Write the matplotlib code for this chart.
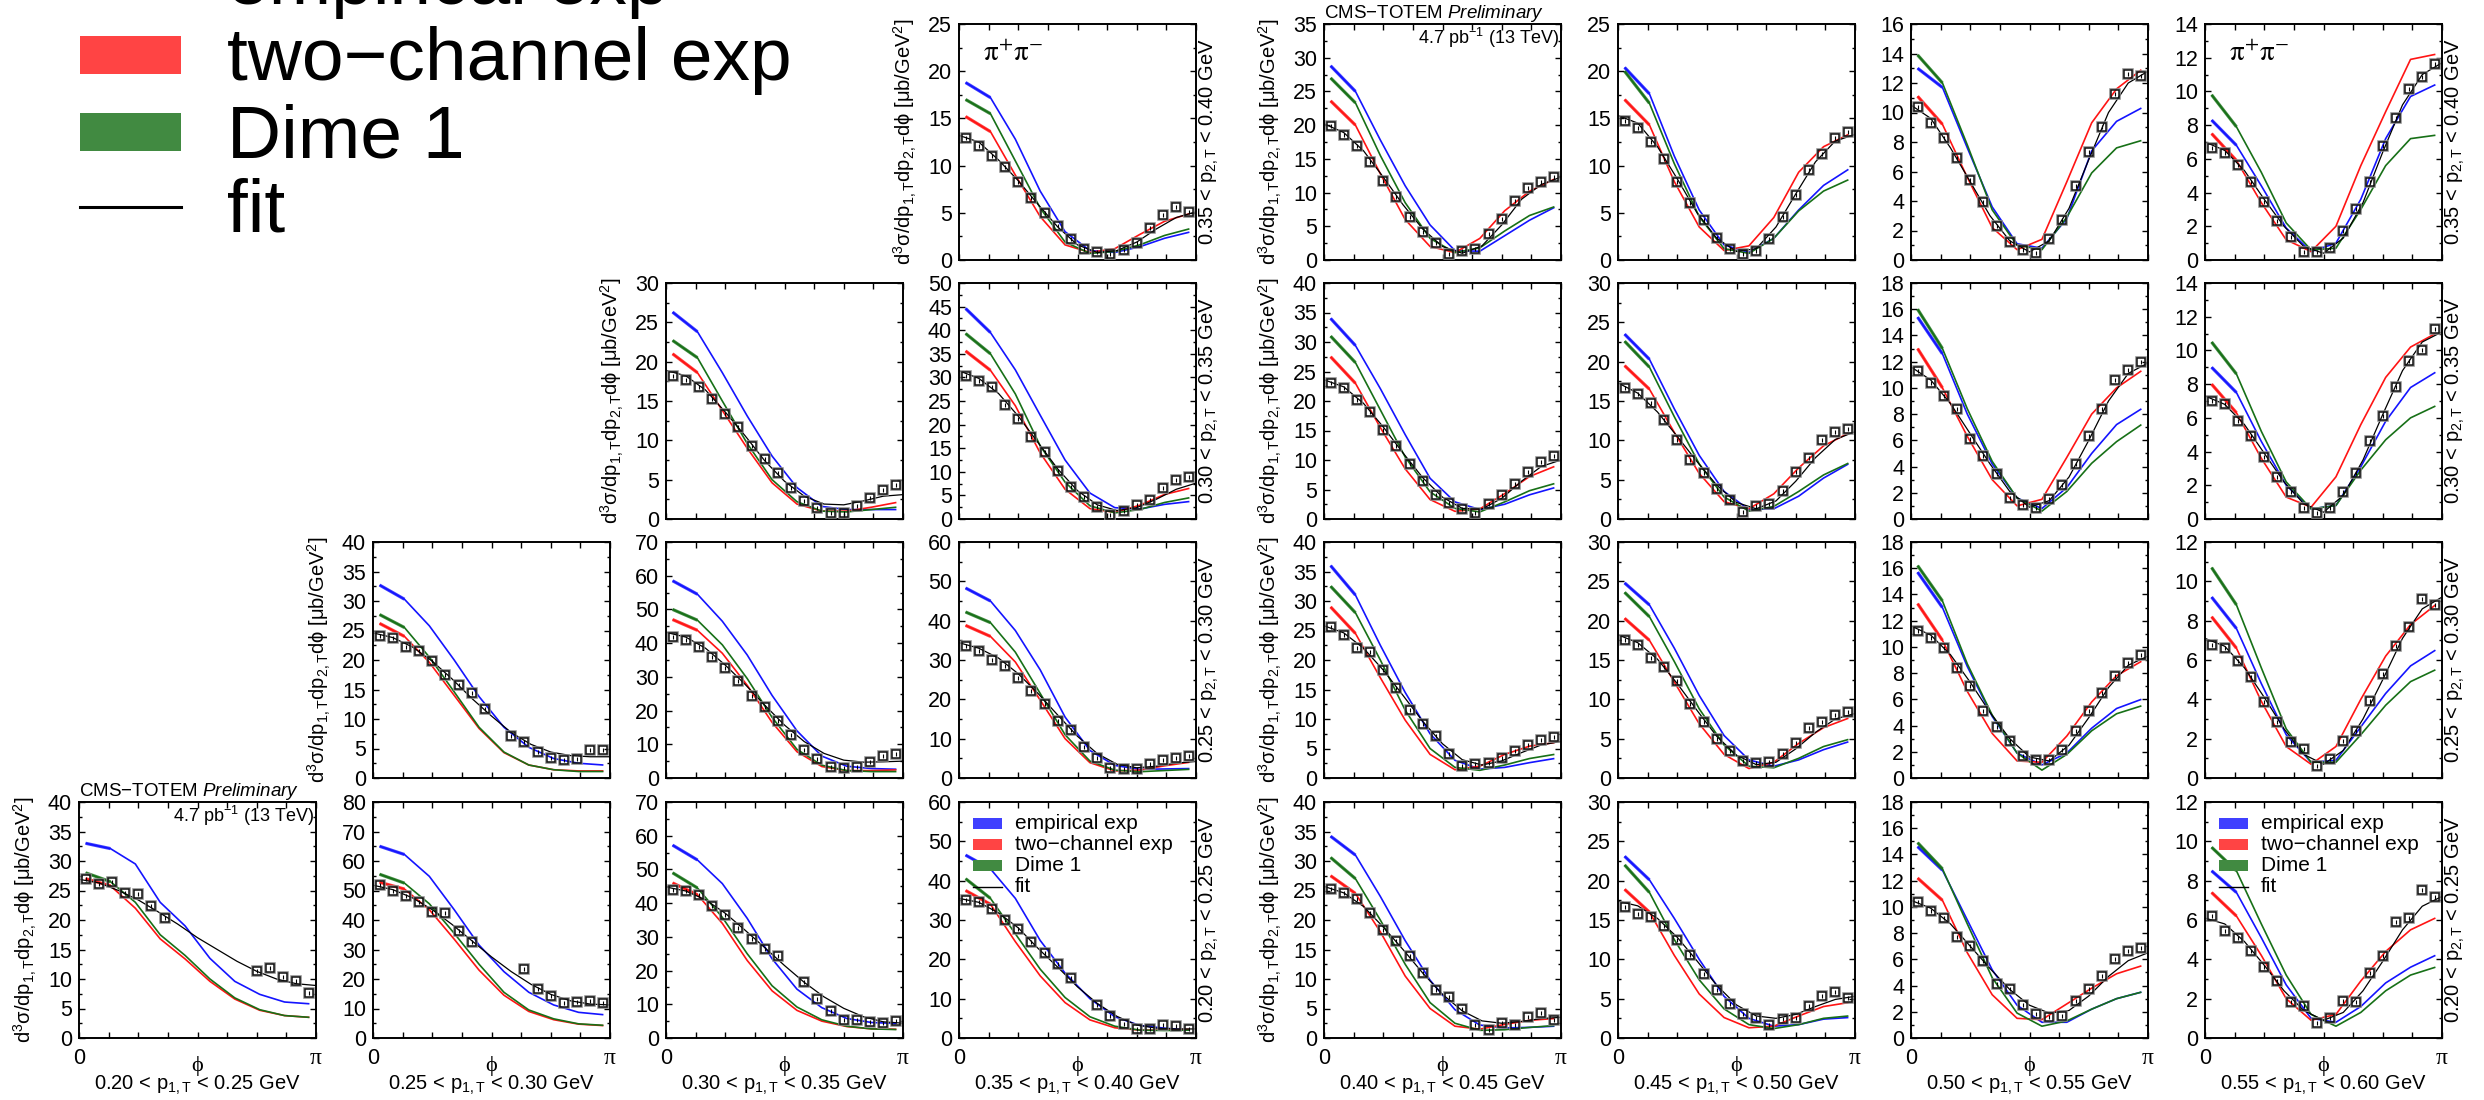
import numpy as np
import matplotlib
matplotlib.use("Agg")
import matplotlib.pyplot as plt
from matplotlib.patches import Rectangle
from matplotlib.lines import Line2D

plt.rcParams['font.family'] = ['Liberation Sans', 'DejaVu Sans']
plt.rcParams['mathtext.fontset'] = 'custom'
plt.rcParams['mathtext.rm'] = 'Liberation Sans'
plt.rcParams['mathtext.it'] = 'Liberation Sans:italic'
plt.rcParams['mathtext.bf'] = 'Liberation Sans:bold'

# ---------------------------------------------------------------- binning
P1_EDGES = [("0.20", "0.25"), ("0.25", "0.30"), ("0.30", "0.35"), ("0.35", "0.40"),
            ("0.40", "0.45"), ("0.45", "0.50"), ("0.50", "0.55"), ("0.55", "0.60")]
P2_EDGES = [("0.35", "0.40"), ("0.30", "0.35"), ("0.25", "0.30"), ("0.20", "0.25")]

N_PHI_BINS = 18      # measured phi bins
N_MODEL = 10         # model prediction nodes
N_FIT = 13           # fit curve nodes

# upper end of the y axis for every (p1, p2) panel
YMAX = {
    ("0.35", "0.35"): 25, ("0.40", "0.35"): 35, ("0.45", "0.35"): 25, ("0.50", "0.35"): 16, ("0.55", "0.35"): 14,
    ("0.30", "0.30"): 30, ("0.35", "0.30"): 50, ("0.40", "0.30"): 40, ("0.45", "0.30"): 30, ("0.50", "0.30"): 18, ("0.55", "0.30"): 14,
    ("0.25", "0.25"): 40, ("0.30", "0.25"): 70, ("0.35", "0.25"): 60, ("0.40", "0.25"): 40, ("0.45", "0.25"): 30, ("0.50", "0.25"): 18, ("0.55", "0.25"): 12,
    ("0.20", "0.20"): 40, ("0.25", "0.20"): 80, ("0.30", "0.20"): 70, ("0.35", "0.20"): 60, ("0.40", "0.20"): 40, ("0.45", "0.20"): 30, ("0.50", "0.20"): 18, ("0.55", "0.20"): 12,
}

# measured cross section per phi bin (None = empty bin)
DATA = {
    ("0.35", "0.35"): [12.9, 12.1, 11.0, 9.9, 8.3, 6.6, 5.0, 3.6, 2.2, 1.2, 0.9, 0.6, 1.05, 1.75, 3.35, 4.75, 5.65, 5.1],
    ("0.40", "0.35"): [19.8, 18.6, 16.9, 14.6, 11.7, 9.3, 6.4, 4.1, 2.5, 0.85, 1.3, 1.7, 3.8, 6.1, 8.7, 10.7, 11.6, 12.3],
    ("0.45", "0.35"): [14.7, 14.0, 12.5, 10.7, 8.3, 6.0, 4.2, 2.3, 1.2, 0.6, 0.95, 2.2, 4.6, 6.9, 9.5, 11.25, 12.9, 13.6],
    ("0.50", "0.35"): [10.4, 9.3, 8.3, 6.9, 5.45, 3.95, 2.3, 1.2, 0.7, 0.5, 1.4, 2.7, 5.0, 7.3, 9.0, 11.25, 12.6, 12.5],
    ("0.55", "0.35"): [6.65, 6.35, 5.65, 4.65, 3.45, 2.3, 1.35, 0.5, 0.5, 0.7, 1.75, 3.0, 4.6, 6.75, 8.4, 10.15, 10.85, 11.6],
    ("0.30", "0.30"): [18.2, 17.7, 16.8, 15.3, 13.3, 11.75, 9.3, 7.65, 5.9, 4.0, 2.3, 1.35, 0.7, 0.7, 1.6, 2.65, 3.7, 4.3],
    ("0.35", "0.30"): [30.3, 29.2, 28.0, 24.2, 21.1, 17.4, 14.3, 10.1, 6.8, 4.7, 2.5, 0.9, 1.6, 2.9, 4.0, 6.5, 8.2, 9.0],
    ("0.40", "0.30"): [23.1, 22.2, 20.1, 18.1, 15.1, 12.3, 9.3, 6.5, 4.1, 2.7, 1.7, 1.1, 2.5, 4.1, 5.9, 8.0, 9.6, 10.6],
    ("0.45", "0.30"): [16.7, 15.9, 14.8, 12.6, 10.1, 7.5, 5.8, 3.8, 2.4, 0.9, 1.7, 1.9, 3.6, 6.0, 7.7, 10.0, 11.1, 11.4],
    ("0.50", "0.30"): [11.3, 10.4, 9.4, 8.4, 6.1, 4.8, 3.4, 1.6, 1.1, 0.85, 1.5, 2.6, 4.2, 6.3, 8.4, 10.6, 11.35, 12.0],
    ("0.55", "0.30"): [7.0, 6.8, 5.8, 4.9, 3.65, 2.5, 1.6, 0.65, 0.35, 0.65, 1.6, 2.75, 4.65, 6.1, 7.85, 9.4, 10.05, 11.3],
    ("0.25", "0.25"): [24.1, 23.7, 22.2, 21.5, 19.9, 17.5, 15.75, 14.4, 11.7, None, 7.1, 6.1, 4.4, 3.4, 3.1, 3.3, 4.8, 4.7],
    ("0.30", "0.25"): [41.8, 40.8, 38.9, 35.9, 32.6, 28.8, 24.4, 21.0, 17.0, 12.9, 8.4, 5.7, 3.4, 3.0, 3.2, 4.7, 6.5, 7.2],
    ("0.35", "0.25"): [33.6, 32.3, 30.0, 28.5, 25.3, 22.2, 18.8, 14.6, 12.1, 8.0, 5.1, 2.5, 2.4, 2.2, 3.6, 4.7, 5.1, 5.6],
    ("0.40", "0.25"): [25.6, 24.3, 22.1, 21.4, 18.3, 15.3, 11.6, 9.2, 7.2, 4.0, 2.0, 2.4, 2.6, 3.4, 4.5, 5.6, 6.4, 6.9],
    ("0.45", "0.25"): [17.6, 16.9, 15.3, 14.1, 12.3, 9.4, 7.1, 5.0, 3.4, 2.1, 1.9, 2.0, 3.1, 4.5, 6.4, 7.1, 8.0, 8.4],
    ("0.50", "0.25"): [11.2, 10.7, 9.95, 8.4, 7.05, 5.1, 3.9, 2.85, 1.65, 1.4, 1.35, 2.15, 3.55, 5.1, 6.5, 7.75, 8.8, 9.4],
    ("0.55", "0.25"): [6.75, 6.6, 5.95, 5.15, 3.85, 2.85, 1.85, 1.5, 0.6, 0.95, 1.9, 2.4, 3.9, 5.3, 6.7, 7.7, 9.1, 8.8],
    ("0.20", "0.20"): [26.9, 26.1, 26.4, 24.6, 24.4, 22.3, 20.4, None, None, None, None, None, None, 11.4, 11.8, 10.4, 9.6, 7.6],
    ("0.25", "0.20"): [51.7, 49.8, 48.3, 46.0, 42.6, 42.4, 36.2, 32.5, None, None, None, 23.4, 16.6, 14.4, 11.9, 12.1, 12.7, 11.9],
    ("0.30", "0.20"): [44.0, 43.5, 42.3, 39.1, 36.4, 32.7, 29.5, 26.5, 24.3, None, 16.6, 11.7, 8.0, 5.4, 5.4, 4.7, 4.5, 5.0],
    ("0.35", "0.20"): [35.0, 34.6, 32.9, 30.1, 27.8, 24.4, 21.6, 18.7, 15.2, None, 8.4, 5.7, 3.6, 2.3, 2.3, 3.3, 3.0, 2.3],
    ("0.40", "0.20"): [25.2, 24.6, 23.6, 21.2, 18.3, 16.5, 13.9, 11.0, 8.2, 7.0, 5.0, 2.2, 1.35, 2.55, 2.2, 3.6, 4.2, 3.1],
    ("0.45", "0.20"): [16.6, 15.7, 15.4, 14.3, 12.5, 10.6, 8.15, 6.1, 4.3, 3.0, 2.5, 1.6, 2.4, 2.6, 4.1, 5.3, 5.8, 5.05],
    ("0.50", "0.20"): [10.35, 9.65, 9.15, 7.7, 7.0, 5.9, 4.1, 3.7, 2.5, 1.85, 1.6, 1.65, 2.85, 3.7, 4.7, 6.0, 6.6, 6.85],
    ("0.55", "0.20"): [6.2, 5.45, 5.1, 4.4, 3.6, 2.9, 1.85, 1.65, 0.75, 1.0, 1.9, 1.85, 3.3, 4.15, 5.9, 6.1, 7.55, 7.15],
}

# "empirical exp" model
EMPIRICAL = {
    ("0.35", "0.35"): [18.8, 17.2, 12.8, 7.3, 3.0, 1.0, 0.8, 1.4, 2.3, 2.95],
    ("0.40", "0.35"): [28.8, 25.0, 17.8, 11.0, 5.2, 1.4, 1.3, 3.6, 5.9, 7.8],
    ("0.45", "0.35"): [20.4, 17.6, 11.0, 5.3, 1.6, 0.8, 2.3, 5.3, 7.9, 9.6],
    ("0.50", "0.35"): [13.0, 11.7, 7.6, 3.6, 1.1, 0.8, 2.8, 7.4, 9.4, 10.3],
    ("0.55", "0.35"): [8.3, 6.8, 4.4, 1.9, 0.5, 1.0, 3.6, 7.2, 9.7, 10.4],
    ("0.30", "0.30"): [26.3, 23.8, 18.6, 13.1, 8.0, 4.0, 1.6, 1.2, 1.2, 1.2],
    ("0.35", "0.30"): [44.6, 39.5, 31.6, 22.0, 12.5, 5.5, 2.4, 2.1, 3.1, 3.7],
    ("0.40", "0.30"): [34.0, 29.4, 22.1, 14.3, 6.9, 2.9, 1.6, 2.5, 4.1, 5.3],
    ("0.45", "0.30"): [23.5, 20.3, 14.0, 8.1, 3.5, 1.2, 1.3, 2.9, 5.2, 7.0],
    ("0.50", "0.30"): [15.4, 12.6, 8.0, 4.2, 1.6, 0.8, 2.4, 5.0, 7.2, 8.4],
    ("0.55", "0.30"): [9.0, 7.5, 4.6, 2.0, 0.6, 0.8, 3.1, 5.8, 7.8, 8.7],
    ("0.25", "0.25"): [32.7, 30.3, 25.8, 20.0, 13.8, 8.6, 5.2, 3.3, 2.5, 2.2],
    ("0.30", "0.25"): [58.5, 54.5, 46.5, 36.5, 24.5, 14.0, 6.5, 3.5, 2.8, 2.6],
    ("0.35", "0.25"): [48.3, 45.0, 37.5, 27.5, 15.5, 7.0, 3.2, 2.2, 2.3, 2.4],
    ("0.40", "0.25"): [36.0, 31.0, 22.5, 14.5, 7.5, 3.0, 1.5, 1.8, 2.6, 3.3],
    ("0.45", "0.25"): [24.8, 22.0, 16.5, 10.5, 5.4, 2.3, 1.5, 2.3, 3.6, 4.6],
    ("0.50", "0.25"): [15.7, 13.0, 8.5, 4.7, 1.9, 1.0, 1.9, 3.8, 5.3, 6.0],
    ("0.55", "0.25"): [9.2, 7.6, 4.8, 2.2, 0.8, 0.9, 2.6, 4.3, 5.7, 6.5],
    ("0.20", "0.20"): [33.0, 32.1, 29.5, 23.0, 19.0, 13.5, 9.6, 7.4, 6.1, 5.8],
    ("0.25", "0.20"): [65.0, 62.2, 54.8, 43.5, 31.5, 22.5, 15.5, 11.2, 8.7, 7.9],
    ("0.30", "0.20"): [57.2, 52.8, 45.8, 35.5, 23.5, 14.5, 9.0, 5.8, 4.6, 4.3],
    ("0.35", "0.20"): [46.5, 43.0, 35.5, 24.8, 16.5, 10.0, 5.4, 3.2, 2.5, 2.0],
    ("0.40", "0.20"): [34.2, 31.0, 24.0, 16.5, 9.8, 4.8, 2.2, 1.7, 1.8, 2.0],
    ("0.45", "0.20"): [23.1, 20.1, 15.2, 10.0, 5.3, 2.5, 1.5, 1.7, 2.4, 2.6],
    ("0.50", "0.20"): [14.6, 12.8, 9.0, 5.2, 2.5, 1.2, 1.2, 2.2, 3.0, 3.5],
    ("0.55", "0.20"): [8.5, 7.4, 5.1, 2.7, 1.0, 0.8, 1.6, 2.8, 3.6, 4.2],
}

# "two-channel exp" model
TWO_CHANNEL = {
    ("0.35", "0.35"): [15.2, 13.6, 9.0, 4.6, 1.6, 0.8, 1.2, 2.7, 4.1, 4.9],
    ("0.40", "0.35"): [23.6, 20.0, 12.8, 6.0, 2.0, 1.1, 3.2, 7.3, 10.2, 12.0],
    ("0.45", "0.35"): [17.0, 14.3, 8.3, 3.5, 1.0, 1.5, 4.5, 9.3, 12.0, 13.3],
    ("0.50", "0.35"): [11.1, 9.2, 5.6, 2.2, 0.7, 1.4, 5.3, 9.3, 11.6, 12.9],
    ("0.55", "0.35"): [7.5, 5.9, 3.4, 1.2, 0.5, 2.0, 5.6, 8.8, 11.9, 12.2],
    ("0.30", "0.30"): [21.0, 18.6, 13.8, 9.0, 4.6, 1.9, 1.0, 1.0, 1.5, 2.1],
    ("0.35", "0.30"): [35.6, 31.5, 24.0, 14.0, 6.3, 2.2, 1.4, 2.9, 5.2, 6.5],
    ("0.40", "0.30"): [27.5, 23.0, 15.5, 8.5, 3.3, 1.3, 1.7, 4.3, 7.2, 8.9],
    ("0.45", "0.30"): [19.5, 16.5, 11.0, 5.8, 2.2, 1.3, 3.2, 6.5, 9.3, 10.9],
    ("0.50", "0.30"): [13.0, 10.0, 6.3, 3.0, 1.0, 1.5, 4.7, 8.0, 10.0, 11.3],
    ("0.55", "0.30"): [8.0, 6.3, 3.6, 1.3, 0.7, 2.5, 5.6, 8.4, 10.2, 11.0],
    ("0.25", "0.25"): [26.2, 24.0, 19.6, 14.0, 8.4, 4.3, 2.2, 1.4, 1.2, 1.2],
    ("0.30", "0.25"): [47.0, 43.8, 37.0, 27.5, 16.5, 7.8, 3.4, 2.2, 2.2, 2.4],
    ("0.35", "0.25"): [38.8, 36.0, 29.5, 19.8, 10.0, 3.9, 1.8, 2.0, 3.1, 4.0],
    ("0.40", "0.25"): [29.0, 24.5, 17.0, 9.8, 4.0, 1.4, 2.0, 4.0, 5.4, 6.0],
    ("0.45", "0.25"): [20.3, 17.5, 12.2, 6.9, 3.0, 1.2, 2.0, 4.4, 6.4, 7.6],
    ("0.50", "0.25"): [13.3, 10.5, 6.6, 3.4, 1.3, 1.2, 3.2, 5.8, 7.8, 8.9],
    ("0.55", "0.25"): [8.2, 6.6, 3.9, 1.6, 0.7, 1.6, 4.0, 6.2, 7.8, 8.8],
    ("0.20", "0.20"): [27.0, 25.8, 22.0, 16.8, 13.4, 9.6, 6.6, 4.7, 3.8, 3.5],
    ("0.25", "0.20"): [52.8, 50.5, 43.5, 33.5, 23.0, 14.5, 9.0, 6.2, 4.7, 4.2],
    ("0.30", "0.20"): [46.0, 42.5, 34.0, 23.0, 14.0, 8.2, 5.0, 3.4, 2.7, 2.6],
    ("0.35", "0.20"): [37.5, 34.0, 24.5, 15.8, 9.0, 4.6, 2.6, 2.0, 2.0, 2.2],
    ("0.40", "0.20"): [27.5, 24.5, 18.0, 10.5, 5.0, 2.0, 1.5, 2.3, 3.0, 3.3],
    ("0.45", "0.20"): [18.9, 16.0, 10.5, 5.6, 2.6, 1.3, 1.5, 2.8, 4.0, 4.5],
    ("0.50", "0.20"): [12.2, 10.5, 6.5, 3.3, 1.5, 1.4, 2.6, 3.8, 4.9, 5.5],
    ("0.55", "0.20"): [7.4, 6.2, 4.2, 2.0, 0.9, 1.2, 2.9, 4.4, 5.5, 6.1],
}

# "Dime 1" model
DIME = {
    ("0.35", "0.35"): [17.0, 15.5, 10.5, 5.5, 1.9, 0.7, 0.9, 1.6, 2.6, 3.3],
    ("0.40", "0.35"): [27.0, 23.3, 15.5, 8.5, 3.2, 1.1, 1.8, 4.3, 6.6, 7.9],
    ("0.45", "0.35"): [20.0, 16.6, 10.2, 4.6, 1.2, 0.7, 2.3, 5.2, 7.3, 8.5],
    ("0.50", "0.35"): [13.9, 12.0, 7.8, 3.4, 1.0, 0.7, 2.9, 5.9, 7.6, 8.1],
    ("0.55", "0.35"): [9.8, 7.9, 5.2, 2.2, 0.6, 0.7, 3.0, 5.6, 7.2, 7.4],
    ("0.30", "0.30"): [22.7, 20.5, 15.0, 9.6, 5.0, 2.2, 1.0, 0.9, 1.2, 1.5],
    ("0.35", "0.30"): [39.3, 35.0, 26.5, 15.5, 7.8, 2.8, 1.3, 2.0, 3.5, 4.5],
    ("0.40", "0.30"): [31.0, 26.5, 18.5, 10.5, 4.6, 1.8, 1.2, 2.9, 4.8, 6.0],
    ("0.45", "0.30"): [22.6, 19.3, 13.0, 7.0, 2.8, 1.0, 1.6, 3.5, 5.6, 7.1],
    ("0.50", "0.30"): [16.0, 13.0, 8.4, 4.4, 1.6, 0.6, 2.1, 4.25, 5.9, 7.2],
    ("0.55", "0.30"): [10.5, 8.6, 5.2, 2.2, 0.6, 0.8, 2.9, 4.7, 6.0, 6.7],
    ("0.25", "0.25"): [27.7, 25.5, 20.5, 14.6, 8.6, 4.4, 2.2, 1.4, 1.1, 1.1],
    ("0.30", "0.25"): [50.0, 46.8, 39.5, 29.5, 18.0, 8.5, 3.8, 2.2, 1.9, 1.9],
    ("0.35", "0.25"): [42.2, 39.5, 32.0, 21.5, 11.0, 4.3, 2.0, 1.6, 1.9, 2.2],
    ("0.40", "0.25"): [32.5, 28.0, 20.0, 11.5, 5.0, 1.8, 1.3, 2.2, 3.3, 4.0],
    ("0.45", "0.25"): [23.6, 20.5, 14.8, 8.8, 4.2, 1.5, 1.3, 2.5, 4.0, 4.9],
    ("0.50", "0.25"): [16.2, 13.5, 8.7, 4.8, 1.9, 0.6, 1.8, 3.6, 4.9, 5.5],
    ("0.55", "0.25"): [10.7, 8.8, 5.6, 2.5, 0.8, 0.8, 2.2, 3.7, 4.9, 5.5],
    ("0.20", "0.20"): [28.0, 26.5, 23.0, 17.5, 14.0, 10.0, 6.8, 4.8, 3.8, 3.5],
    ("0.25", "0.20"): [55.5, 52.5, 45.5, 35.5, 25.0, 15.5, 9.5, 6.5, 4.8, 4.3],
    ("0.30", "0.20"): [49.0, 44.5, 35.8, 25.0, 15.5, 9.2, 5.4, 3.5, 2.7, 2.5],
    ("0.35", "0.20"): [40.5, 35.5, 26.5, 17.5, 10.3, 5.4, 3.0, 2.0, 1.9, 2.0],
    ("0.40", "0.20"): [30.6, 27.0, 20.0, 12.5, 6.0, 2.5, 1.3, 1.4, 1.8, 2.1],
    ("0.45", "0.20"): [22.0, 18.5, 12.5, 7.4, 3.7, 1.7, 1.2, 1.7, 2.5, 2.8],
    ("0.50", "0.20"): [14.9, 12.9, 8.7, 4.6, 1.9, 0.9, 1.3, 2.2, 3.0, 3.5],
    ("0.55", "0.20"): [9.7, 8.5, 5.8, 3.2, 1.2, 0.6, 1.3, 2.4, 3.2, 3.6],
}

# fit to the measured distribution, sampled on [0, pi]
FIT = {
    ("0.35", "0.35"): [13.2, 12.5, 10.6, 8.4, 5.9, 3.5, 1.6, 0.8, 1.0, 1.9, 3.3, 4.5, 5.1],
    ("0.40", "0.35"): [20.2, 18.9, 16.2, 12.3, 8.2, 4.6, 2.0, 1.0, 2.1, 5.2, 9.0, 11.2, 12.3],
    ("0.45", "0.35"): [15.3, 14.5, 12.0, 8.6, 5.0, 2.3, 0.9, 1.2, 3.5, 7.0, 10.4, 12.6, 13.3],
    ("0.50", "0.35"): [10.5, 9.6, 7.6, 5.3, 3.0, 1.3, 0.55, 1.3, 3.5, 6.8, 10.0, 12.0, 12.8],
    ("0.55", "0.35"): [7.0, 6.5, 5.3, 3.6, 2.0, 0.8, 0.4, 1.3, 3.4, 6.4, 9.2, 11.0, 11.7],
    ("0.30", "0.30"): [18.9, 18.2, 16.4, 13.6, 10.6, 7.4, 4.8, 2.9, 1.9, 1.8, 2.3, 2.9, 3.1],
    ("0.35", "0.30"): [31.4, 29.8, 26.6, 21.8, 16.2, 10.6, 6.0, 3.0, 1.8, 2.4, 4.2, 6.3, 7.6],
    ("0.40", "0.30"): [23.6, 22.4, 19.6, 15.6, 11.2, 7.0, 3.7, 1.8, 1.7, 3.5, 6.4, 8.9, 10.0],
    ("0.45", "0.30"): [17.3, 16.0, 13.6, 10.5, 7.3, 4.3, 2.1, 1.3, 2.3, 4.8, 7.8, 10.1, 11.1],
    ("0.50", "0.30"): [11.6, 10.6, 8.8, 6.5, 4.2, 2.1, 0.9, 1.4, 3.2, 6.0, 9.0, 11.1, 11.9],
    ("0.55", "0.30"): [7.3, 6.8, 5.6, 3.9, 2.2, 0.9, 0.4, 1.4, 3.5, 6.2, 8.8, 10.5, 11.1],
    ("0.25", "0.25"): [24.6, 23.8, 22.2, 19.8, 16.8, 13.5, 10.5, 7.7, 5.7, 4.4, 3.8, 3.6, 3.6],
    ("0.30", "0.25"): [43.2, 41.8, 38.5, 33.5, 27.8, 21.6, 15.7, 10.8, 7.3, 5.3, 4.7, 4.8, 5.0],
    ("0.35", "0.25"): [34.4, 33.0, 30.5, 26.5, 21.5, 16.0, 10.6, 6.2, 3.5, 2.6, 3.0, 3.8, 4.2],
    ("0.40", "0.25"): [25.8, 24.6, 22.0, 18.3, 14.0, 9.6, 5.8, 3.1, 2.2, 2.9, 4.3, 5.6, 6.2],
    ("0.45", "0.25"): [18.2, 17.2, 15.1, 12.0, 8.6, 5.3, 2.9, 1.7, 2.0, 3.7, 5.8, 7.5, 8.2],
    ("0.50", "0.25"): [11.6, 10.9, 9.4, 7.3, 5.0, 3.0, 1.6, 1.3, 2.5, 4.6, 6.9, 8.6, 9.3],
    ("0.55", "0.25"): [7.1, 6.7, 5.6, 4.1, 2.5, 1.2, 0.7, 1.4, 3.0, 5.0, 7.1, 8.6, 9.2],
    ("0.20", "0.20"): [26.9, 26.3, 25.0, 23.4, 21.4, 19.3, 17.0, 15.0, 13.0, 11.3, 10.0, 9.2, 8.9],
    ("0.25", "0.20"): [51.8, 50.3, 47.5, 43.5, 38.5, 33.0, 27.5, 22.5, 18.2, 14.8, 12.6, 11.5, 11.2],
    ("0.30", "0.20"): [44.8, 43.6, 41.0, 37.0, 32.0, 26.8, 21.5, 16.5, 12.2, 8.8, 6.3, 4.8, 4.4],
    ("0.35", "0.20"): [35.5, 34.5, 31.8, 28.0, 22.8, 18.0, 13.0, 8.8, 5.5, 3.3, 2.5, 2.3, 2.3],
    ("0.40", "0.20"): [25.7, 24.6, 22.3, 18.8, 15.0, 11.0, 7.4, 4.6, 2.9, 2.5, 2.8, 3.3, 3.5],
    ("0.45", "0.20"): [17.4, 16.8, 15.2, 12.8, 9.8, 6.7, 4.2, 2.8, 2.5, 3.0, 4.0, 4.9, 5.3],
    ("0.50", "0.20"): [10.5, 9.9, 8.7, 7.0, 5.3, 3.7, 2.5, 1.9, 2.1, 3.2, 4.7, 5.9, 6.5],
    ("0.55", "0.20"): [6.1, 5.8, 4.9, 3.7, 2.4, 1.4, 0.9, 1.3, 2.4, 3.9, 5.5, 6.7, 7.2],
}

SERIES_NAMES = ["empirical exp", "two\u2212channel exp", "Dime 1", "fit"]
LINE_COLORS = ["#1414ff", "#ff1414", "#177017", "black"]
PATCH_COLORS = ["#4040ff", "#ff4444", "#418a41"]

# ---------------------------------------------------------------- layout (pixels)
FIG_W, FIG_H = 2484, 1100
COL_X = [79, 373, 666, 959, 1324, 1618, 1911, 2205]
ROW_Y = [24, 283, 542, 802]
PANEL_W, PANEL_H = 237, 236

YLABEL = r"d$^{3}$σ/dp$_{\mathrm{1,T}}$dp$_{\mathrm{2,T}}$d$\mathrm{\phi}$ [μb/GeV$^{2}$]"
SERIF = ["Liberation Serif", "DejaVu Serif"]

phi_data = (np.arange(N_PHI_BINS) + 0.5) * np.pi / N_PHI_BINS
phi_model = np.linspace(np.pi / 36, 35 * np.pi / 36, N_MODEL)
phi_fit = np.linspace(0.0, np.pi, N_FIT)

fig = plt.figure(figsize=(FIG_W / 100, FIG_H / 100), dpi=100)
fig.patch.set_facecolor("white")


def px_axes(col, row):
    left = COL_X[col] / FIG_W
    bottom = 1 - (ROW_Y[row] + PANEL_H) / FIG_H
    return fig.add_axes([left, bottom, PANEL_W / FIG_W, PANEL_H / FIG_H])


def small_legend(ax):
    tops = [21.5, 42.5, 63.5, 85.0]
    x0, x1 = 14 / PANEL_W, 43 / PANEL_W
    hh = 11 / PANEL_H
    for k, name in enumerate(SERIES_NAMES):
        yc = 1 - tops[k] / PANEL_H
        if k < 3:
            ax.add_patch(Rectangle((x0, yc - hh / 2), x1 - x0, hh, transform=ax.transAxes,
                                   facecolor=PATCH_COLORS[k], edgecolor="none", zorder=6))
        else:
            ax.add_line(Line2D([x0, x1], [yc, yc], transform=ax.transAxes, color="black", lw=1.0, zorder=6))
        ax.text(56 / PANEL_W, yc, name, transform=ax.transAxes, ha="left", va="center",
                fontsize=15, zorder=6)


def model_curve(ax, values, color):
    # prediction line; its uncertainty band is visible only at small phi
    ax.plot(phi_model, values, color=color, lw=1.2, zorder=2, solid_capstyle="butt")
    ax.plot(phi_model[:2], values[:2], color=color, lw=2.3, zorder=2, alpha=0.8,
            solid_capstyle="butt")


first_left_col = {0: 3, 1: 2, 2: 1, 3: 0}

for r, (lo2, hi2) in enumerate(P2_EDGES):
    for c, (lo1, hi1) in enumerate(P1_EDGES):
        key = (lo1, lo2)
        if key not in YMAX:
            continue
        ax = px_axes(c, r)
        ymax = YMAX[key]
        step = 2 if ymax <= 18 else (5 if ymax <= 50 else 10)

        model_curve(ax, EMPIRICAL[key], LINE_COLORS[0])
        model_curve(ax, TWO_CHANNEL[key], LINE_COLORS[1])
        model_curve(ax, DIME[key], LINE_COLORS[2])
        ax.plot(phi_fit, FIT[key], color="black", lw=0.9, zorder=3)
        yd = np.array(DATA[key], dtype=float)
        ax.plot(phi_data, yd, ls="none", marker="s", ms=7.6, mfc="none", mec="#8a8a8a",
                mew=1.1, zorder=4)
        ax.plot(phi_data, yd, ls="none", marker="s", ms=6.0, mfc="none", mec="#111111",
                mew=1.1, zorder=4)
        ax.plot(phi_data, yd, ls="none", marker="|", ms=3.5, mec="black", mew=0.8, zorder=4)

        ax.set_xlim(0, np.pi)
        ax.set_ylim(0, ymax)
        ax.set_xticks(np.arange(9) * np.pi / 8)
        ax.set_xticklabels([])
        ax.set_yticks(np.arange(0, ymax + 0.01, step))
        ax.set_yticks(np.arange(step / 2, ymax, step), minor=True)
        ax.tick_params(which="both", direction="in", top=True, right=True, width=1.0)
        ax.tick_params(which="major", length=4.5, labelsize=15.5, pad=5)
        ax.tick_params(which="minor", length=2.5)
        for s in ax.spines.values():
            s.set_linewidth(1.4)

        if c == first_left_col[r] or c == 4:
            ax.text(-54 / PANEL_W, 0.5, YLABEL, transform=ax.transAxes, rotation=90,
                    ha="center", va="center", fontsize=14.5)
        if c in (3, 7):
            ax.text(1 + 13 / PANEL_W, 0.5, lo2 + r" < p$_{\mathrm{2,T}}$ < " + hi2 + " GeV",
                    transform=ax.transAxes, rotation=90, ha="center", va="center", fontsize=14.5)
        if r == 3:
            ax.text(0, -20 / PANEL_H, "0", transform=ax.transAxes, ha="center", va="center", fontsize=15.5)
            ax.text(1, -20 / PANEL_H, "π", transform=ax.transAxes, ha="center", va="center",
                    fontsize=17, family=SERIF)
            ax.text(0.5, -28 / PANEL_H, "ϕ", transform=ax.transAxes, ha="center", va="center",
                    fontsize=16, family=SERIF)
            ax.text(0.5, -47 / PANEL_H, lo1 + r" < p$_{\mathrm{1,T}}$ < " + hi1 + " GeV",
                    transform=ax.transAxes, ha="center", va="center", fontsize=14.5)
        if (c, r) in ((0, 3), (4, 0)):
            ax.text(0, 1 + 6 / PANEL_H, "CMS\u2212TOTEM $\\mathit{Preliminary}$", transform=ax.transAxes,
                    ha="left", va="baseline", fontsize=13.5)
            ax.text(1 - 2 / PANEL_W, 1 - 14 / PANEL_H, r"4.7 pb$^{-1}$ (13 TeV)", transform=ax.transAxes,
                    ha="right", va="center", fontsize=13)
        if (c, r) in ((3, 0), (7, 0)):
            ax.text(24 / PANEL_W, 1 - 29 / PANEL_H, r"$\mathrm{\pi}^{+}\mathrm{\pi}^{-}$",
                    transform=ax.transAxes, ha="left", va="center", fontsize=21, math_fontfamily="stix")
        if (c, r) in ((3, 3), (7, 3)):
            small_legend(ax)

# large legend in the upper-left corner
baselines = [4, 80, 157, 232]
for k, name in enumerate(SERIES_NAMES):
    yb = baselines[k]
    ymid = yb - 25
    if k < 3:
        fig.add_artist(Rectangle((80 / FIG_W, 1 - (ymid + 19) / FIG_H), 101 / FIG_W, 38 / FIG_H,
                                 transform=fig.transFigure, facecolor=PATCH_COLORS[k], edgecolor="none"))
    else:
        fig.add_artist(Line2D([80 / FIG_W, 181 / FIG_W], [1 - ymid / FIG_H] * 2,
                              transform=fig.transFigure, color="black", lw=2.2))
    fig.text(227 / FIG_W, 1 - yb / FIG_H, name, ha="left", va="baseline", fontsize=54)

fig.savefig("out.png", dpi=100, facecolor="white")
